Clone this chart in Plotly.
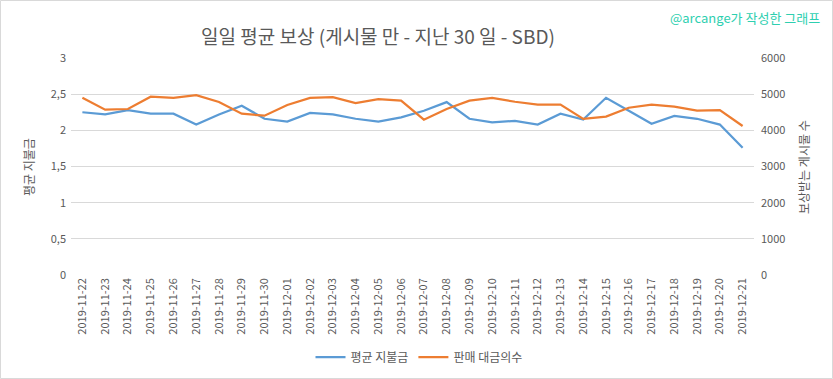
import plotly.graph_objects as go

dates = ["2019-11-22", "2019-11-23", "2019-11-24", "2019-11-25", "2019-11-26", "2019-11-27",
         "2019-11-28", "2019-11-29", "2019-11-30", "2019-12-01", "2019-12-02", "2019-12-03",
         "2019-12-04", "2019-12-05", "2019-12-06", "2019-12-07", "2019-12-08", "2019-12-09",
         "2019-12-10", "2019-12-11", "2019-12-12", "2019-12-13", "2019-12-14", "2019-12-15",
         "2019-12-16", "2019-12-17", "2019-12-18", "2019-12-19", "2019-12-20", "2019-12-21"]

avg_payout = [2.25, 2.22, 2.28, 2.23, 2.23, 2.08, 2.22, 2.34, 2.16, 2.12, 2.24, 2.22,
              2.16, 2.12, 2.18, 2.27, 2.39, 2.16, 2.11, 2.13, 2.08, 2.23, 2.15, 2.45,
              2.27, 2.09, 2.20, 2.16, 2.08, 1.76]

post_count = [4900, 4570, 4590, 4930, 4895, 4975, 4785, 4460, 4405, 4700, 4895, 4920,
              4755, 4865, 4820, 4295, 4590, 4820, 4900, 4790, 4710, 4710, 4315, 4380,
              4625, 4710, 4655, 4545, 4560, 4120]

left_ticks = [0, 0.5, 1, 1.5, 2, 2.5, 3]
right_ticks = [0, 1000, 2000, 3000, 4000, 5000, 6000]

title_text = "일일 평균 보상 (게시물 만 - 지난 30 일 - SBD)"
watermark = "@arcange가 작성한 그래프"
left_title = "평균 지불금"
right_title = "보상받는 게시물 수"
series_names = ["평균 지불금", "판매 대금의수"]

FONT = "Noto Sans CJK KR, Noto Sans, sans-serif"
GRAY = "#595959"

fig = go.Figure()
fig.add_trace(go.Scatter(x=dates, y=avg_payout, name=series_names[0], mode="lines",
                         line=dict(color="#5b9bd5", width=2.25), yaxis="y"))
fig.add_trace(go.Scatter(x=dates, y=post_count, name=series_names[1], mode="lines",
                         line=dict(color="#ed7d31", width=2.25), yaxis="y2"))

W, H = 833, 379
L, R, T, B = 71, 79, 58, 104
pw, ph = W - L - R, H - T - B

def px_x(p):
    return (p - L) / pw

def px_y(p):
    return (H - B - p) / ph

fig.update_layout(
    width=W, height=H,
    margin=dict(l=L, r=R, t=T, b=B, autoexpand=False),
    paper_bgcolor="white", plot_bgcolor="white",
    separators=", ",
    font=dict(family=FONT, color=GRAY, size=11),
    showlegend=True,
    legend=dict(orientation="h", x=px_x(419), xanchor="center", y=px_y(357), yanchor="middle",
                font=dict(size=12, color=GRAY), itemwidth=30, tracegroupgap=0),
    title=dict(text=title_text, x=378 / W, xanchor="center", y=1 - 37 / H, yanchor="middle",
               font=dict(size=19, color=GRAY, family=FONT)),
    xaxis=dict(type="category", range=[-0.5, len(dates) - 0.5], tickangle=-90,
               showgrid=False, showline=False, ticks="", tickfont=dict(size=11, color=GRAY),
               automargin=False),
    yaxis=dict(range=[0, 3], tickvals=left_ticks, showgrid=True, gridcolor="#d9d9d9",
               gridwidth=1, zeroline=False, showline=False, ticks="",
               tickfont=dict(size=11, color=GRAY), ticklabelstandoff=4, automargin=False),
    yaxis2=dict(range=[0, 6000], tickvals=right_ticks, overlaying="y", side="right",
                showgrid=False, zeroline=False, showline=False, ticks="", tickformat="d",
                tickfont=dict(size=11, color=GRAY), ticklabelstandoff=6, automargin=False),
    shapes=[dict(type="rect", xref="paper", yref="paper",
                 x0=px_x(0.5), x1=px_x(832.5), y0=px_y(378.5), y1=px_y(0.5),
                 line=dict(color="#d9d9d9", width=1), layer="below")],
    annotations=[
        dict(text=watermark, xref="paper", yref="paper", x=px_x(822), y=px_y(17),
             xanchor="right", yanchor="middle", showarrow=False,
             font=dict(size=13, color="#2ecfb0", family=FONT)),
        dict(text=left_title, xref="paper", yref="paper", x=px_x(28), y=px_y(167),
             xanchor="center", yanchor="middle", textangle=-90, showarrow=False,
             font=dict(size=12, color=GRAY, family=FONT)),
        dict(text=right_title, xref="paper", yref="paper", x=px_x(803), y=px_y(167),
             xanchor="center", yanchor="middle", textangle=-90, showarrow=False,
             font=dict(size=12, color=GRAY, family=FONT)),
    ],
)

fig.write_html("out.html", config={"displayModeBar": False},
               post_script="document.body.style.margin='0px';document.body.style.overflow='hidden';")
